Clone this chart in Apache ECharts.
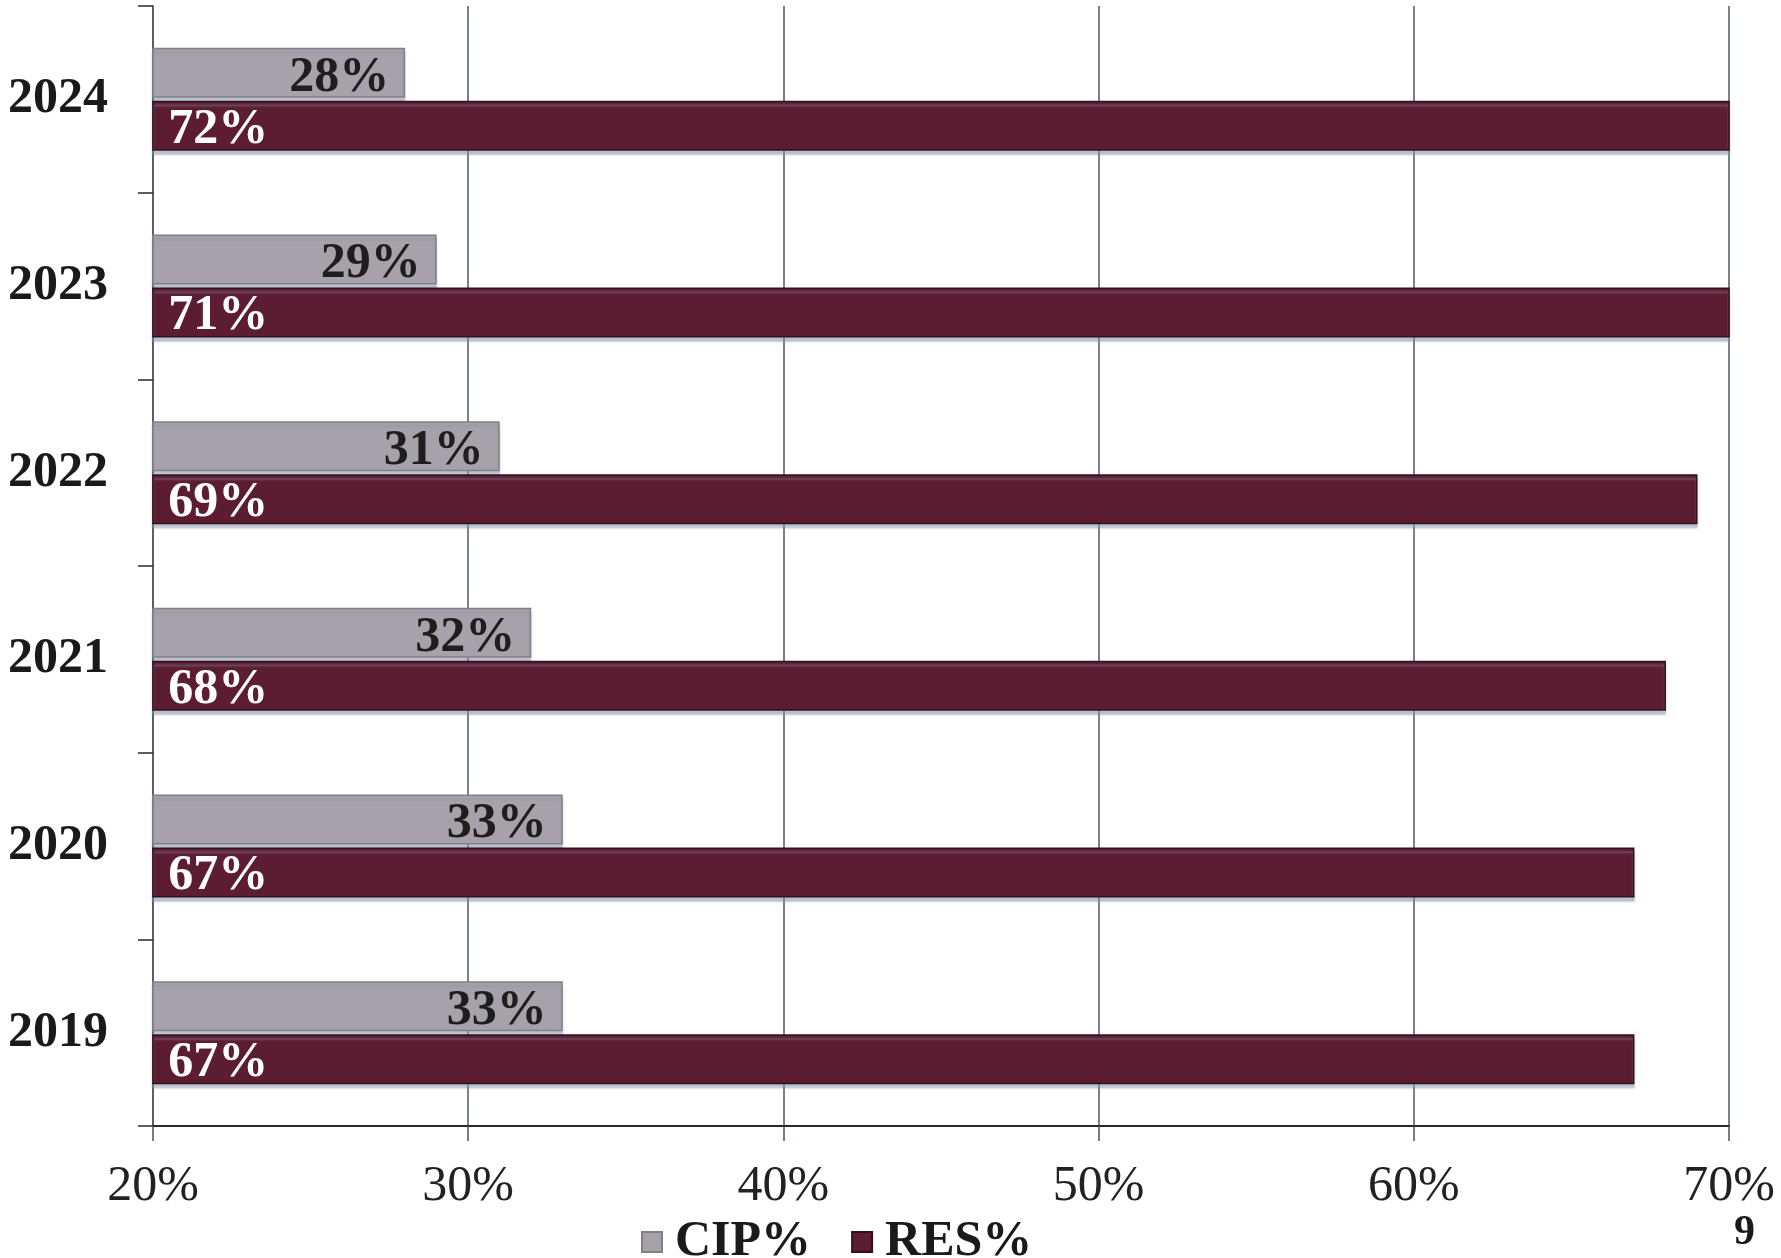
<!DOCTYPE html>
<html>
<head>
<meta charset="utf-8">
<script src="https://cdn.jsdelivr.net/npm/echarts@6/dist/echarts.min.js"></script>
<style>html,body{margin:0;padding:0;background:#fff;}#c{width:1781px;height:1258px;}</style>
</head>
<body>
<div id="c"></div>
<script>
const years = ['2019', '2020', '2021', '2022', '2023', '2024'];
const cipValues = [33, 33, 32, 31, 29, 28];
const resValues = [67, 67, 68, 69, 71, 72];
const seriesNames = ['CIP%', 'RES%'];
const xTicks = { min: 20, max: 70, interval: 10 };
const pageNumber = '9';

const FONT = '"Liberation Serif", "Times New Roman", serif';
const chart = echarts.init(document.getElementById('c'));
chart.setOption({
  animation: false,
  backgroundColor: '#ffffff',
  grid: { left: 153, right: 52, top: 6, bottom: 132, containLabel: false },
  xAxis: {
    type: 'value',
    min: xTicks.min, max: xTicks.max, interval: xTicks.interval,
    axisLine: { show: true, lineStyle: { color: '#2a2a2a', width: 2 } },
    axisTick: { show: true, length: 15, lineStyle: { color: '#4a5660', width: 1.5 } },
    axisLabel: { formatter: '{value}%', fontFamily: FONT, fontSize: 50, color: '#222', margin: 36 },
    splitLine: { show: true, lineStyle: { color: '#4a5a66', width: 1.5 } }
  },
  yAxis: {
    type: 'category',
    data: years,
    axisLine: { show: true, lineStyle: { color: '#4a5660', width: 1.5 } },
    axisTick: { show: true, length: 15, alignWithLabel: false, lineStyle: { color: '#2a2a2a', width: 1.5 } },
    axisLabel: { fontFamily: FONT, fontSize: 50, fontWeight: 'bold', color: '#1a1a1a', margin: 45 }
  },
  legend: {
    data: seriesNames,
    left: 636, top: 1212,
    icon: 'rect', itemWidth: 20, itemHeight: 20, itemGap: 40,
    textStyle: { fontFamily: FONT, fontSize: 50, fontWeight: 'bold', color: '#1a1a1a', padding: [0, 0, 0, 8] }
  },
  graphic: [{
    type: 'text', right: 26, top: 1212,
    style: { text: pageNumber, fontFamily: FONT, fontSize: 42, fontWeight: 'bold', fill: '#1a1a1a' }
  }],
  series: [
    {
      name: seriesNames[0], type: 'bar', data: cipValues,
      barWidth: 50, barGap: '6%',
      itemStyle: { color: '#a7a1a9', borderColor: '#857e88', borderWidth: 1.5,
        shadowColor: 'rgba(130,150,170,0.55)', shadowOffsetY: 4, shadowBlur: 2 },
      label: { show: true, position: 'insideRight', distance: 16, offset: [0, 5],
        formatter: '{c}%', fontFamily: FONT, fontSize: 50, fontWeight: 'bold', color: '#1e1e1e' }
    },
    {
      name: seriesNames[1], type: 'bar', data: resValues,
      barWidth: 50, barGap: '6%',
      itemStyle: { color: '#5c1d32', borderColor: '#35101c', borderWidth: 1.5,
        shadowColor: 'rgba(130,150,170,0.55)', shadowOffsetY: 4, shadowBlur: 2 },
      label: { show: true, position: 'insideLeft', distance: 16, offset: [0, 4],
        formatter: '{c}%', fontFamily: FONT, fontSize: 50, fontWeight: 'bold', color: '#ffffff' }
    }
  ]
});
</script>
</body>
</html>
